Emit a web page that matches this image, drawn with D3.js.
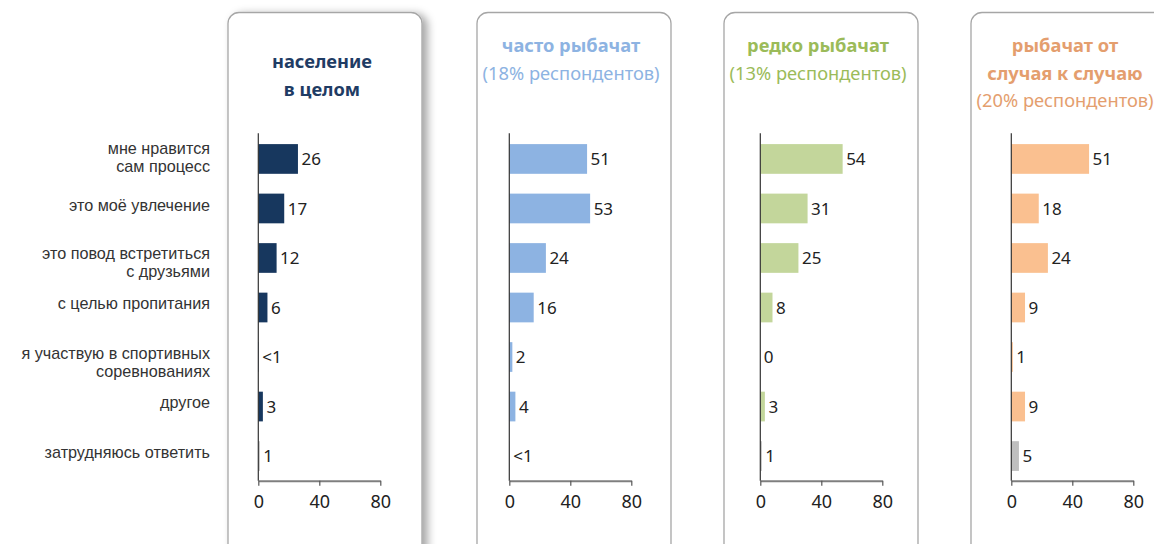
<!DOCTYPE html>
<html><head><meta charset="utf-8">
<script src="https://cdn.jsdelivr.net/npm/d3@7/dist/d3.min.js"></script>
<style>
html,body{margin:0;padding:0;background:#fff;}
svg{display:block;font-family:"Noto Sans","Open Sans",sans-serif;}
</style></head><body>
<svg id="chart" width="1154" height="544"></svg>
<script>
// ---- data ----
const categories = [
  ["мне нравится","сам процесс"],
  ["это моё увлечение"],
  ["это повод встретиться","с друзьями"],
  ["с целью пропитания"],
  ["я участвую в спортивных","соревнованиях"],
  ["другое"],
  ["затрудняюсь ответить"]
];
const seriesNames = ["население в целом","часто рыбачат","редко рыбачат","рыбачат от случая к случаю"];
const headerLines = [
  [["население",true],["в целом",true]],
  [["часто рыбачат",true],["(18% респондентов)",false]],
  [["редко рыбачат",true],["(13% респондентов)",false]],
  [["рыбачат от",true],["случая к случаю",true],["(20% респондентов)",false]]
];
const valuesPopulation = [26, 17, 12, 6, 0.3, 3, 1];
const valuesOften      = [51, 53, 24, 16, 2, 4, 0.3];
const valuesRarely     = [54, 31, 25, 8, 0, 3, 1];
const valuesOccasional = [51, 18, 24, 9, 1, 9, 5];
const labelsPopulation = ["26","17","12","6","<1","3","1"];
const labelsOften      = ["51","53","24","16","2","4","<1"];
const labelsRarely     = ["54","31","25","8","0","3","1"];
const labelsOccasional = ["51","18","24","9","1","9","5"];
const tickValues = [0, 40, 80];

// ---- layout / style ----
const seriesValues = [valuesPopulation, valuesOften, valuesRarely, valuesOccasional];
const seriesLabels = [labelsPopulation, labelsOften, labelsRarely, labelsOccasional];
const barColors = ["#17375e","#8db3e2","#c3d69b","#fac090"];
const headColors = ["#1f3c64","#8db3e2","#9bbb59","#e49e6e"];
const otherColor = "#bfbfbf";
const panelLeft = [228, 477, 724, 971];
const axisZero = [258.3, 509.3, 760.3, 1011.3];
const panelW = 194;
const plotTop = 134.2, plotBottom = 480.8;
const firstLineShift = [-11, -3.5, -5, -4, -4, -4.3, -4];
const lineGap = 18.2;

const svg = d3.select("#chart");
const defs = svg.append("defs");
const f = defs.append("filter").attr("id","shadow").attr("x","-10%").attr("y","-10%").attr("width","130%").attr("height","130%");
f.append("feDropShadow").attr("dx",5).attr("dy",2).attr("stdDeviation",4).attr("flood-color","#000").attr("flood-opacity",0.35);

const y = d3.scaleBand().domain(d3.range(categories.length)).range([plotTop, plotBottom]).paddingInner(0.4).paddingOuter(0.2);

// panels
seriesNames.forEach((name, i) => {
  const g = svg.append("g");
  g.append("rect")
    .attr("x", panelLeft[i]).attr("y", 12.5)
    .attr("width", panelW).attr("height", 600)
    .attr("rx", 11).attr("ry", 11)
    .attr("fill", "#fff")
    .attr("stroke", "#a6a6a6").attr("stroke-width", 1.3)
    .attr("filter", i === 0 ? "url(#shadow)" : null);

  // header
  const cx = panelLeft[i] + panelW / 2 - 3;
  const lines = headerLines[i];
  const startY = i === 0 ? 68 : 52;
  lines.forEach((ln, k) => {
    g.append("text")
      .attr("x", cx).attr("y", startY + k * 27.5)
      .attr("text-anchor", "middle")
      .attr("font-size", 18.3)
      .attr("font-weight", ln[1] ? 700 : 400)
      .attr("fill", headColors[i])
      .text(ln[0]);
  });

  const x = d3.scaleLinear().domain([0, 80]).range([axisZero[i], axisZero[i] + 122]);
  const vals = seriesValues[i];
  const labs = seriesLabels[i];

  g.selectAll("rect.bar").data(vals).join("rect")
    .attr("class","bar")
    .attr("x", x(0))
    .attr("y", (d, j) => y(j))
    .attr("width", d => x(d) - x(0))
    .attr("height", y.bandwidth())
    .attr("fill", (d, j) => j === vals.length - 1 ? otherColor : barColors[i]);

  g.selectAll("text.val").data(vals).join("text")
    .attr("class","val")
    .attr("x", d => x(d) + 3.5)
    .attr("y", (d, j) => y(j) + y.bandwidth() / 2)
    .attr("dy", "0.36em")
    .attr("font-size", 17)
    .attr("fill", "#222")
    .text((d, j) => labs[j]);

  // x axis
  const ax = g.append("g").attr("transform", `translate(0,${plotBottom})`)
    .call(d3.axisBottom(x).tickValues(tickValues).tickSize(5).tickSizeOuter(0).tickPadding(9));
  ax.select(".domain").attr("stroke", "#7f7f7f").attr("stroke-width", 2);
  ax.selectAll(".tick line").attr("stroke", "#555").attr("stroke-width", 1.2);
  ax.selectAll(".tick text").attr("font-size", 18).attr("fill", "#222").attr("font-family", "Noto Sans, sans-serif");

  // y axis line
  g.append("line")
    .attr("x1", x(0)).attr("x2", x(0))
    .attr("y1", plotTop - 1).attr("y2", plotBottom)
    .attr("stroke", "#333").attr("stroke-width", 1.2);
});

// category labels
categories.forEach((lines, j) => {
  const c = y(j) + y.bandwidth() / 2 + firstLineShift[j];
  lines.forEach((ln, k) => {
    svg.append("text")
      .attr("x", 210).attr("text-anchor", "end")
      .attr("y", c + k * lineGap)
      .attr("dy", "0.36em")
      .attr("font-family", "'Liberation Sans', Arial, sans-serif")
      .attr("font-size", 16.2).attr("fill", "#333")
      .text(ln);
  });
});
</script>
</body></html>
